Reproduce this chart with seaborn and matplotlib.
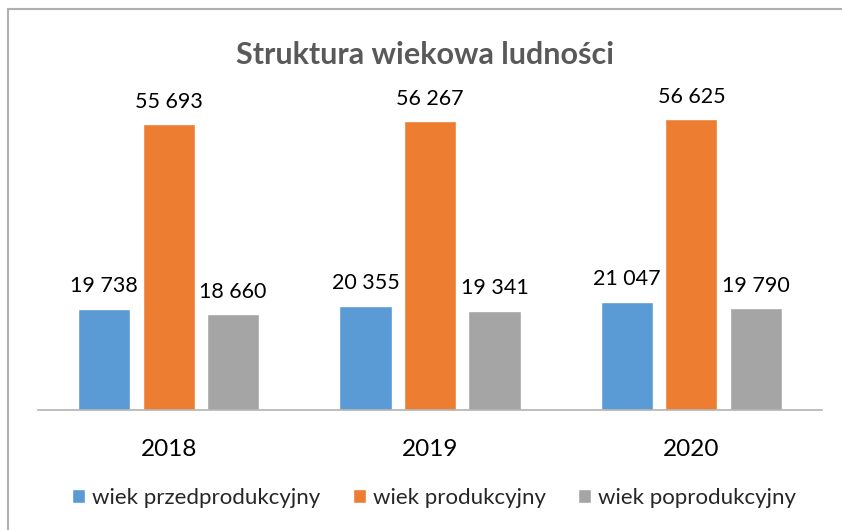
import pandas as pd
import matplotlib.pyplot as plt
import matplotlib.lines as mlines
import seaborn as sns

# data
years = ['2018', '2019', '2020']
groups = ['wiek przedprodukcyjny', 'wiek produkcyjny', 'wiek poprodukcyjny']
przed = [19738, 20355, 21047]
prod = [55693, 56267, 56625]
popr = [18660, 19341, 19790]
colors = ['#5B9BD5', '#ED7D31', '#A5A5A5']

df = pd.DataFrame({
    'rok': years * 3,
    'grupa': [groups[0]] * 3 + [groups[1]] * 3 + [groups[2]] * 3,
    'liczba': przed + prod + popr,
})

sns.set_style('white')
plt.rcParams['font.family'] = ['Lato', 'DejaVu Sans']

fig = plt.figure(figsize=(8.42, 5.30), dpi=100)
ax = fig.add_axes([38 / 842, 120 / 530, 784 / 842, 308 / 530])

sns.barplot(data=df, x='rok', y='liczba', hue='grupa', palette=colors,
            width=0.74, gap=0.19, saturation=1, ax=ax, legend=True)

for cont in ax.containers:
    ax.bar_label(cont, labels=[f'{v:,.0f}'.replace(',', ' ') for v in cont.datavalues],
                 padding=9, fontsize=15.5, color='#000000')

ax.set_xlim(-0.5, 2.5)
ax.set_ylim(0, 60000)
ax.set_yticks([])
ax.set_xlabel('')
ax.set_ylabel('')
for s in ['top', 'right', 'left']:
    ax.spines[s].set_visible(False)
ax.spines['bottom'].set_color('#b3b3b3')
ax.spines['bottom'].set_linewidth(1.2)
ax.tick_params(axis='x', length=0, pad=21, labelsize=17.5, labelcolor='#000000')

ax.legend(loc='center', bbox_to_anchor=(0.505, -0.285), ncol=3, frameon=False,
          fontsize=16, handlelength=0.6, handleheight=0.6, handletextpad=0.3,
          columnspacing=1.45)

fig.text(0.505, 1 - 55 / 530, 'Struktura wiekowa ludności', ha='center', va='center',
         fontsize=22, fontweight='bold', color='#595959')

# chart frame (left and top edges visible)
fig.add_artist(mlines.Line2D([8 / 842, 8 / 842], [0, 1 - 9 / 530], color='#b0b0b0', lw=1.5))
fig.add_artist(mlines.Line2D([8 / 842, 1], [1 - 9 / 530, 1 - 9 / 530], color='#b0b0b0', lw=1.5))

fig.savefig('out.png', dpi=100)
